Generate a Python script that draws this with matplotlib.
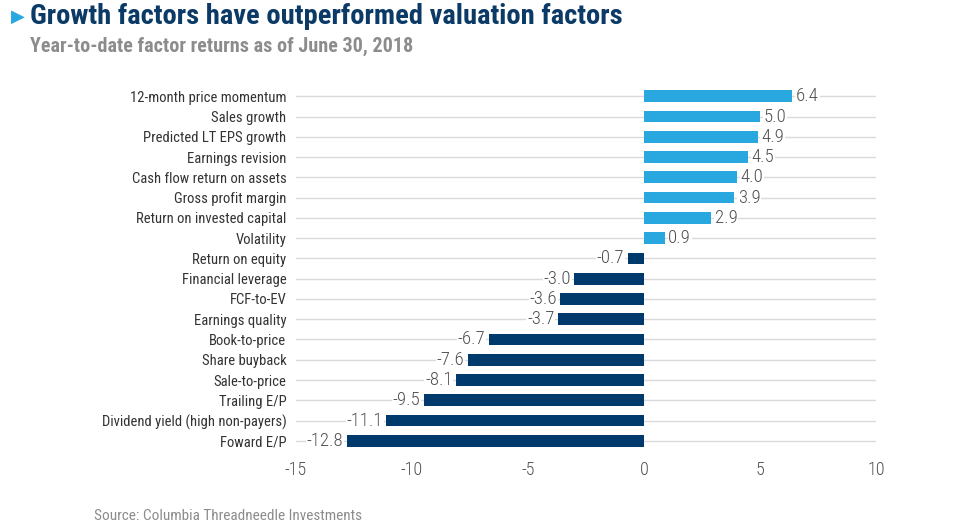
import matplotlib.pyplot as plt
from matplotlib import font_manager

# Data
factors = ['12-month price momentum', 'Sales growth', 'Predicted LT EPS growth',
           'Earnings revision', 'Cash flow return on assets', 'Gross profit margin',
           'Return on invested capital', 'Volatility', 'Return on equity',
           'Financial leverage', 'FCF-to-EV', 'Earnings quality', 'Book-to-price',
           'Share buyback', 'Sale-to-price', 'Trailing E/P',
           'Dividend yield (high non-payers)', 'Foward E/P']
returns = [6.4, 5.0, 4.9, 4.5, 4.0, 3.9, 2.9, 0.9, -0.7, -3.0, -3.6, -3.7,
           -6.7, -7.6, -8.1, -9.5, -11.1, -12.8]
xticks = [-15, -10, -5, 0, 5, 10]

# pick a condensed font if there is one
names = {f.name for f in font_manager.fontManager.ttflist}
font = 'DejaVu Sans'
for cand in ['Roboto Condensed', 'IBM Plex Sans Condensed', 'PT Sans Narrow',
             'Open Sans Condensed']:
    if cand in names:
        font = cand
        break
plt.rcParams['font.family'] = [font, 'DejaVu Sans']

light_blue = '#29A8E0'
navy = '#003A6C'
text_grey = '#505050'

fig = plt.figure(figsize=(9.56, 5.25), dpi=100)
ax = fig.add_axes([0.3096, 0.141, 0.6067, 0.695])

ypos = list(range(len(factors)))[::-1]
colors = [light_blue if v > 0 else navy for v in returns]
ax.barh(ypos, returns, height=0.58, color=colors, zorder=3)

# Value labels next to the bars
for y, v in zip(ypos, returns):
    if v >= 0:
        ax.text(v + 0.15, y, f'{v:.1f}', va='center', ha='left', fontsize=13.5,
                color=text_grey, zorder=4, fontweight='light',
                bbox=dict(facecolor='white', edgecolor='none', pad=0.5))
    else:
        ax.text(v - 0.15, y, f'{v:.1f}', va='center', ha='right', fontsize=13.5,
                color=text_grey, zorder=4, fontweight='light',
                bbox=dict(facecolor='white', edgecolor='none', pad=0.5))

ax.set_xlim(-15, 10)
ax.set_ylim(-0.5, len(factors) - 0.5)
ax.set_yticks(ypos)
ax.set_yticklabels(factors, fontsize=10.5, color='#333333')
ax.set_xticks(xticks)
ax.set_xticklabels([str(t) for t in xticks], fontsize=13, color='#505050',
                   fontweight='light')
ax.tick_params(axis='both', length=0)
ax.tick_params(axis='y', pad=7)
ax.tick_params(axis='x', pad=7)

ax.grid(axis='y', color='#DADADA', linewidth=1, zorder=0)
for s in ax.spines.values():
    s.set_visible(False)

# Title block
fig.text(0.011, 0.968, '\u25B6', fontsize=13, color=light_blue, va='center', ha='left',
         family='DejaVu Sans', transform=fig.transFigure)
fig.text(0.031, 0.968, 'Growth factors have outperformed valuation factors',
         fontsize=20.5, fontweight='bold', color='#0B3A66', va='center', ha='left')
fig.text(0.031, 0.912, 'Year-to-date factor returns as of June 30, 2018',
         fontsize=14.5, fontweight='bold', color='#8C8C8C', va='center', ha='left')
fig.text(0.098, 0.018, 'Source: Columbia Threadneedle Investments',
         fontsize=11, color='#8C8C8C', va='center', ha='left')

fig.savefig('out.png', dpi=100)
